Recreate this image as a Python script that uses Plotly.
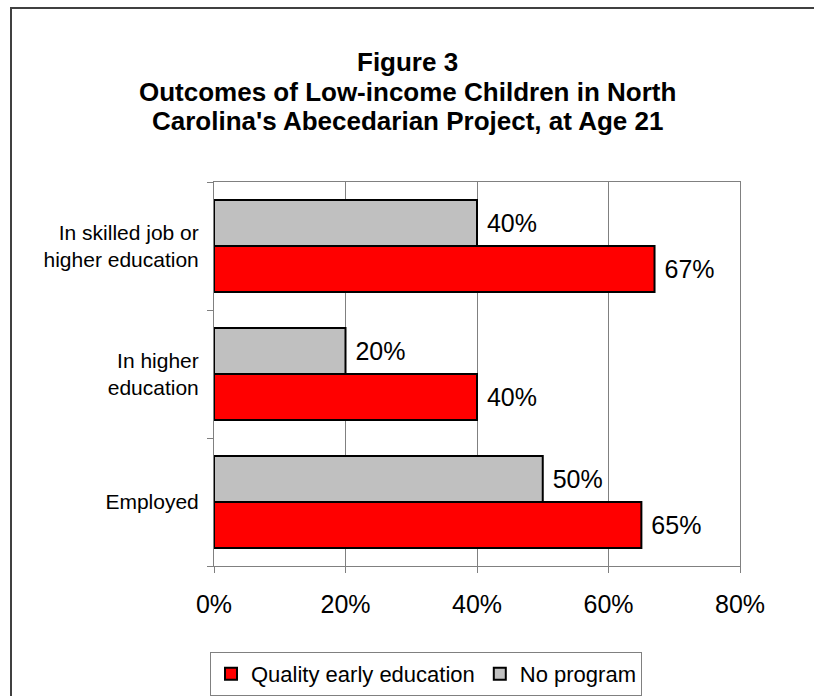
import plotly.graph_objects as go

categories = ["Employed", "In higher<br>education", "In skilled job or<br>higher education"]
quality_early_education = [65, 40, 67]
no_program = [50, 20, 40]
x_tick_values = [0, 20, 40, 60, 80]
x_tick_labels = ["0%", "20%", "40%", "60%", "80%"]

FONT = "Liberation Sans, Arial, sans-serif"

fig = go.Figure()
fig.add_trace(go.Bar(
    name="Quality early education", y=categories, x=quality_early_education,
    orientation="h", marker=dict(color="#FF0000", line=dict(color="#000000", width=2)),
    text=[f" {v}%" for v in quality_early_education], textposition="outside",
    textfont=dict(size=25, color="#000000", family=FONT), cliponaxis=False,
))
fig.add_trace(go.Bar(
    name="No program", y=categories, x=no_program,
    orientation="h", marker=dict(color="#C0C0C0", line=dict(color="#000000", width=2)),
    text=[f" {v}%" for v in no_program], textposition="outside",
    textfont=dict(size=25, color="#000000", family=FONT), cliponaxis=False,
))

L, R, T, B = 214, 814 - 740, 182, 696 - 566
ph = 696 - T - B
pw = 814 - L - R

def py(ypx):
    return (696 - B - ypx) / ph

def px(xpx):
    return (xpx - L) / pw

title_lines = ["Figure 3", "Outcomes of Low-income Children in North",
               "Carolina's Abecedarian Project, at Age 21"]
title_y = [62, 92, 121]
annotations = []
for t, yy in zip(title_lines, title_y):
    annotations.append(dict(text=f"<b>{t}</b>", x=px(407), y=py(yy), xref="paper", yref="paper",
                            xanchor="center", yanchor="middle", showarrow=False,
                            font=dict(size=26, family=FONT, color="#000000")))

fig.update_layout(
    width=814, height=696,
    margin=dict(l=L, r=R, t=T, b=B, pad=0, autoexpand=False),
    barmode="group", bargap=0.28, bargroupgap=0,
    paper_bgcolor="#FFFFFF", plot_bgcolor="#FFFFFF",
    font=dict(family=FONT, color="#000000"),
    showlegend=True,
    legend=dict(orientation="h", x=px(210), xanchor="left", y=py(652), yanchor="top",
                bordercolor="#808080", borderwidth=1, bgcolor="#FFFFFF",
                font=dict(size=22, family=FONT), traceorder="normal",
                itemwidth=30),
    xaxis=dict(range=[0, 80], tickvals=x_tick_values, ticktext=x_tick_labels,
               showgrid=True, gridcolor="#808080", gridwidth=1,
               showline=True, linecolor="#808080", linewidth=1, mirror=True,
               ticks="outside", ticklen=6, tickcolor="#808080", ticklabelstandoff=10,
               tickfont=dict(size=25, family=FONT), zeroline=False, fixedrange=True),
    yaxis=dict(showgrid=False, showline=True, linecolor="#808080", linewidth=1, mirror=True,
               ticks="outside", ticklen=6, tickcolor="#808080", tickson="boundaries",
               tickfont=dict(size=21, family=FONT), ticklabelstandoff=10, fixedrange=True),
    annotations=annotations,
    shapes=[dict(type="rect", xref="paper", yref="paper",
                 x0=px(11), x1=px(830), y0=py(720), y1=py(8),
                 line=dict(color="#404040", width=2), fillcolor="rgba(0,0,0,0)", layer="above")],
)

fig.write_html("out.html", config={"displayModeBar": False},
               post_script="document.body.style.margin='0';document.body.style.overflow='hidden';")
